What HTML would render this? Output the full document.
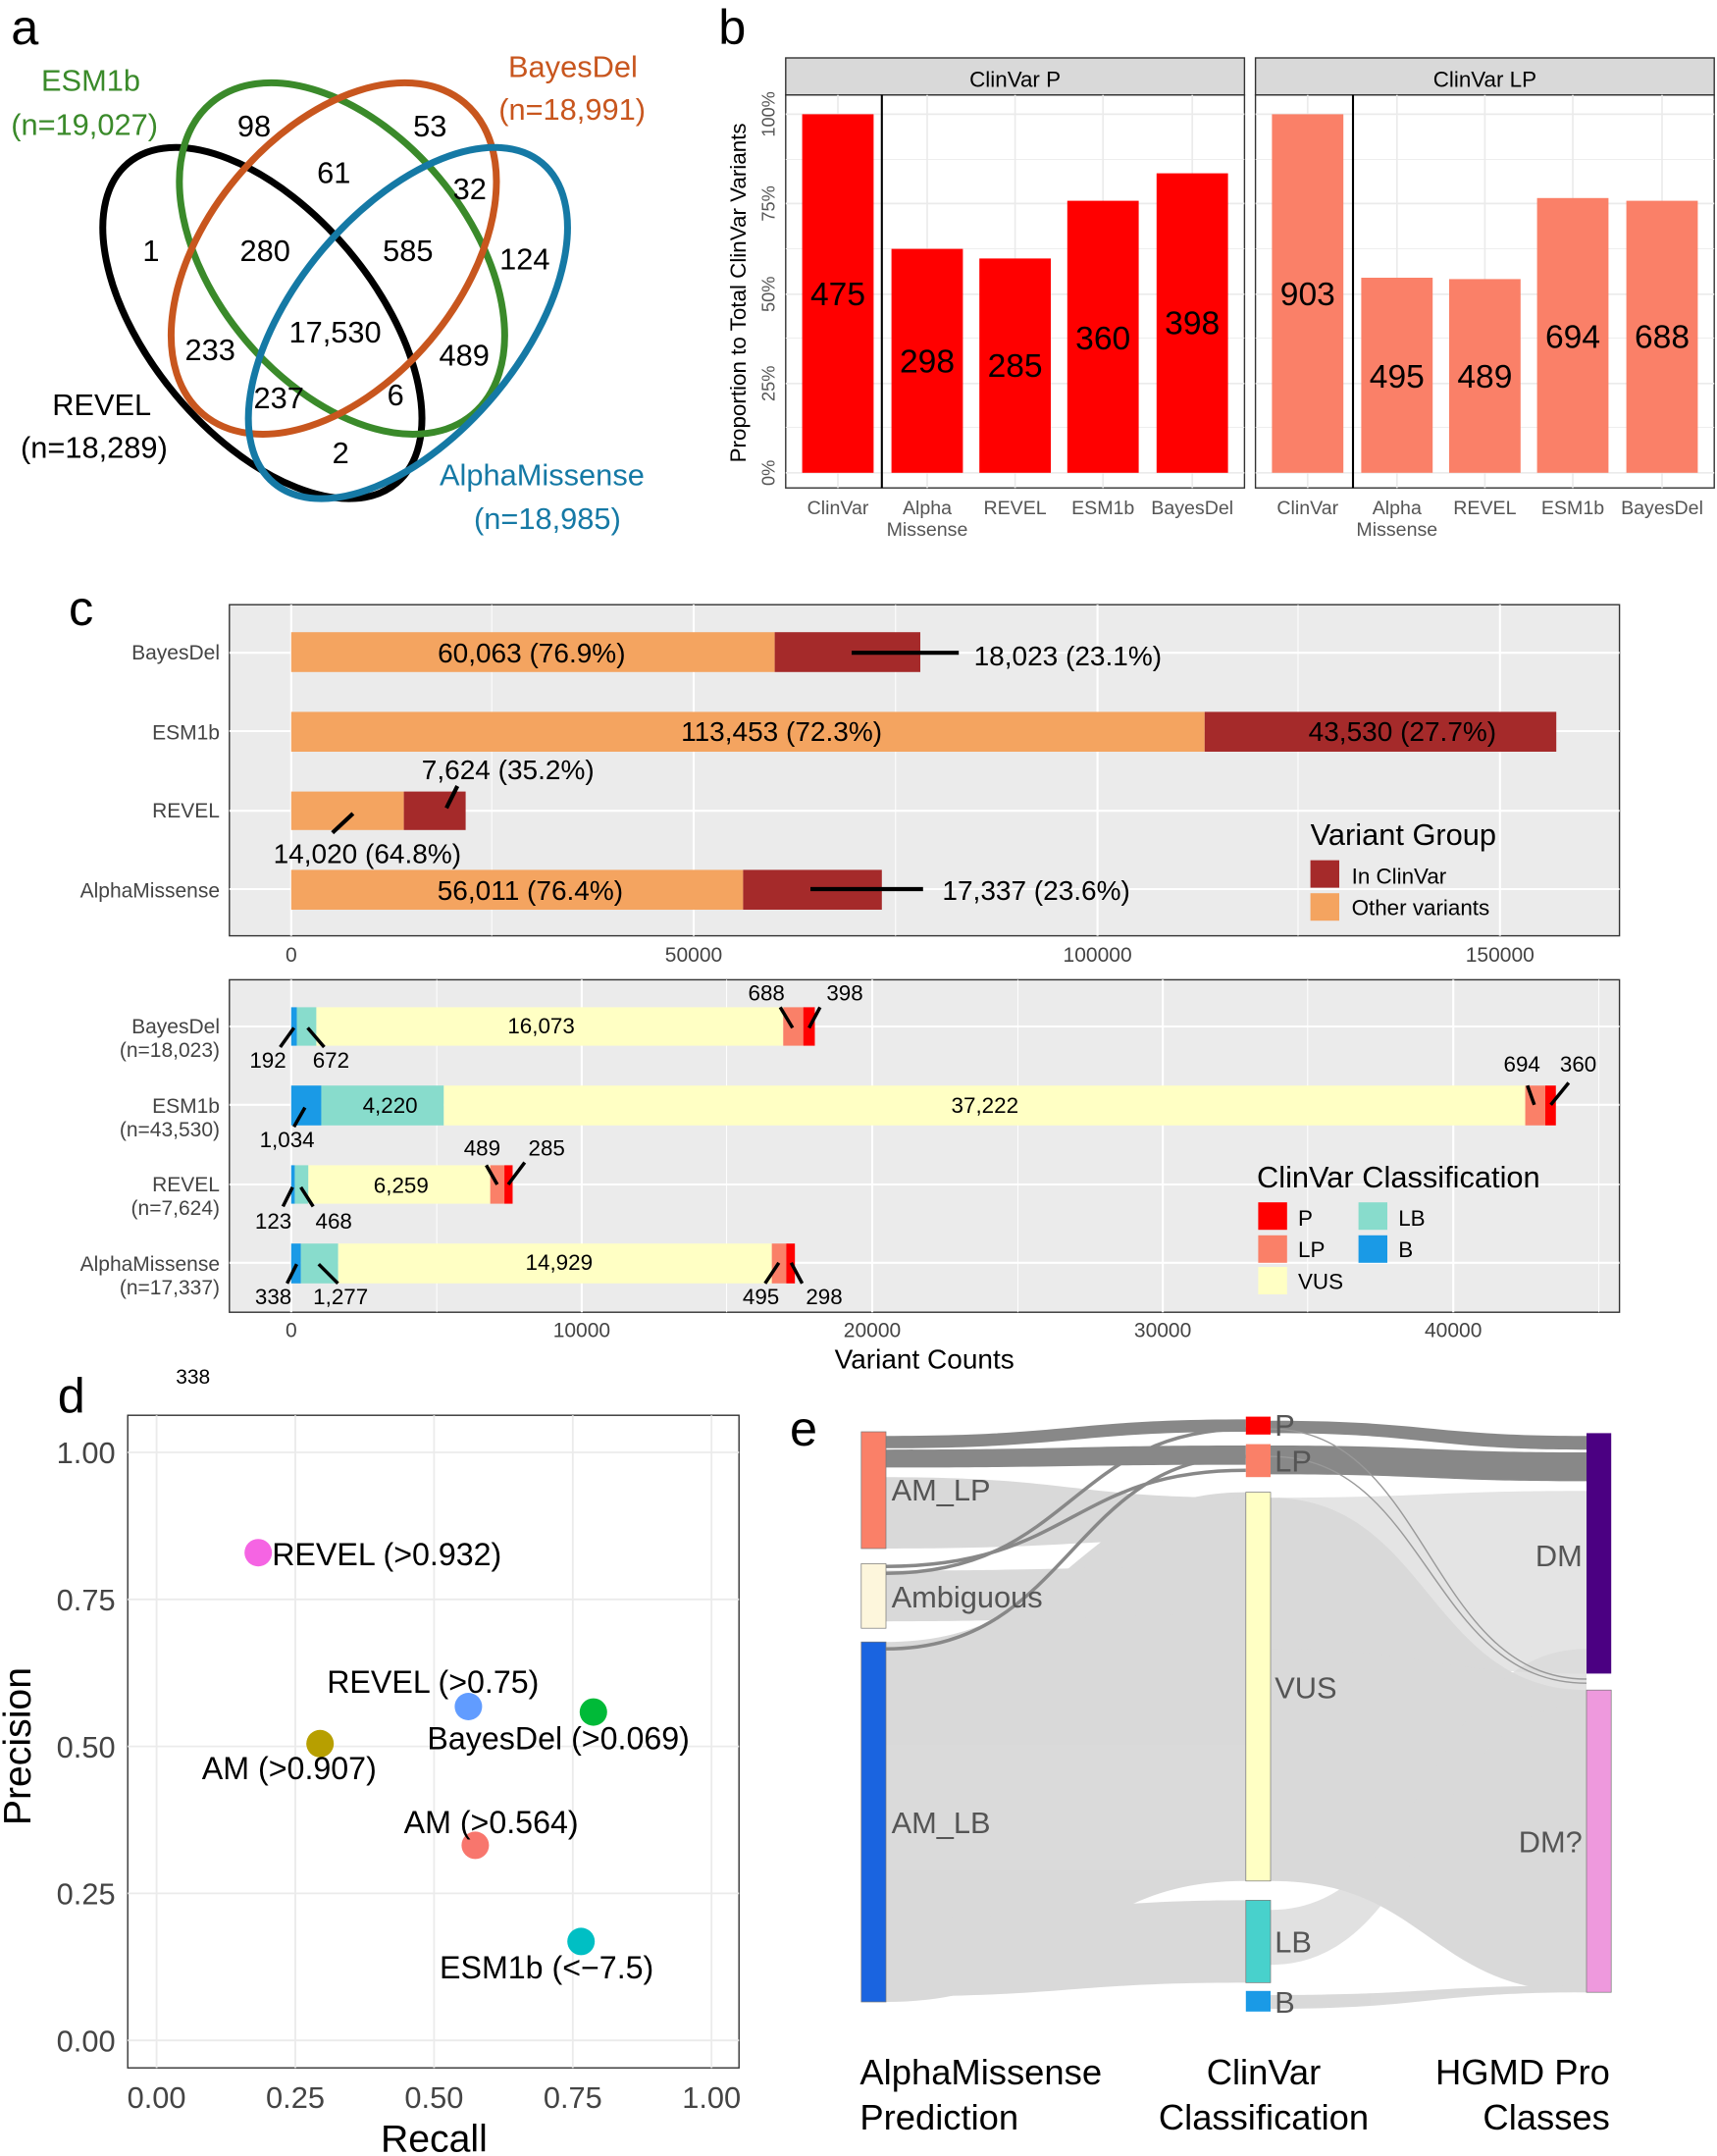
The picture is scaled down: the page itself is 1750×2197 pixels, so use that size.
<!DOCTYPE html>
<html><head><meta charset="utf-8"><style>
html,body{margin:0;padding:0;background:#fff}
svg{display:block}
text{font-family:"Liberation Sans",sans-serif}
</style></head><body>
<svg width="1750" height="2197" viewBox="0 0 1250 1569" xmlns="http://www.w3.org/2000/svg">
<rect width="1250" height="1569" fill="#fff"/>
<!-- Panel a -->
<text x="8" y="32" font-size="36">a</text>
<g fill="none" stroke-width="5">
<ellipse cx="191" cy="235" rx="152" ry="82" transform="rotate(50 191 235)" stroke="#000"/>
<ellipse cx="249" cy="188" rx="148" ry="92" transform="rotate(50 249 188)" stroke="#3a8a2a"/>
<ellipse cx="243" cy="188" rx="148" ry="92" transform="rotate(-50 243 188)" stroke="#c8561e"/>
<ellipse cx="297" cy="235" rx="152" ry="82" transform="rotate(-50 297 235)" stroke="#1579a5"/>
</g>
<g font-size="22" fill="#3a8a2a"><text x="30" y="66">ESM1b</text><text x="8" y="98">(n=19,027)</text></g>
<g font-size="22" fill="#c8561e"><text x="370" y="56">BayesDel</text><text x="363" y="87">(n=18,991)</text></g>
<g font-size="22" fill="#000"><text x="38" y="302">REVEL</text><text x="15" y="333">(n=18,289)</text></g>
<g font-size="22" fill="#1579a5"><text x="320" y="353">AlphaMissense</text><text x="345" y="385">(n=18,985)</text></g>
<g font-size="22" fill="#000" text-anchor="middle">
<text x="185" y="99">98</text><text x="313" y="99">53</text><text x="243" y="133">61</text><text x="342" y="145">32</text>
<text x="110" y="190">1</text><text x="193" y="190">280</text><text x="297" y="190">585</text><text x="382" y="196">124</text>
<text x="153" y="262">233</text><text x="244" y="249">17,530</text><text x="338" y="266">489</text>
<text x="203" y="297">237</text><text x="288" y="295">6</text><text x="248" y="337">2</text>
</g>
<!-- Panel b -->
<text x="523" y="32" font-size="36">b</text>
<text transform="translate(543 213) rotate(-90)" font-size="16" text-anchor="middle">Proportion to Total ClinVar Variants</text>
<g font-size="13" fill="#555" text-anchor="middle">
<text transform="translate(564 344) rotate(-90)">0%</text>
<text transform="translate(564 279) rotate(-90)">25%</text>
<text transform="translate(564 214) rotate(-90)">50%</text>
<text transform="translate(564 148) rotate(-90)">75%</text>
<text transform="translate(564 83) rotate(-90)">100%</text>
</g>
<g id="pb">
<rect x="572" y="42" width="334" height="27" fill="#d9d9d9" stroke="#333"/>
<rect x="572" y="69" width="334" height="286" fill="#fff" stroke="#333"/>
<g stroke="#ebebeb" stroke-width="1.2"><line x1="572" x2="906" y1="344" y2="344"/><line x1="572" x2="906" y1="279" y2="279"/><line x1="572" x2="906" y1="214" y2="214"/><line x1="572" x2="906" y1="148" y2="148"/><line x1="572" x2="906" y1="83" y2="83"/>
<line x1="572" x2="906" y1="311" y2="311" stroke-width=".6"/><line x1="572" x2="906" y1="246" y2="246" stroke-width=".6"/><line x1="572" x2="906" y1="181" y2="181" stroke-width=".6"/><line x1="572" x2="906" y1="116" y2="116" stroke-width=".6"/>
<line x1="610" x2="610" y1="69" y2="355"/><line x1="675" x2="675" y1="69" y2="355"/><line x1="739" x2="739" y1="69" y2="355"/><line x1="803" x2="803" y1="69" y2="355"/><line x1="868" x2="868" y1="69" y2="355"/></g>
</g>
<g fill="#ff0000"><rect x="584" y="83" width="52" height="261"/><rect x="649" y="181" width="52" height="163"/><rect x="713" y="188" width="52" height="156"/><rect x="777" y="146" width="52" height="198"/><rect x="842" y="126" width="52" height="218"/></g>
<line x1="642" x2="642" y1="69" y2="355" stroke="#000" stroke-width="1.5"/>
<text x="739" y="63" font-size="16" text-anchor="middle">ClinVar P</text>
<g font-size="24" text-anchor="middle"><text x="610" y="222">475</text><text x="675" y="271">298</text><text x="739" y="274">285</text><text x="803" y="254">360</text><text x="868" y="243">398</text></g>
<g transform="translate(342 0)">
<use href="#pb"/>
<g fill="#fa8068"><rect x="584" y="83" width="52" height="261"/><rect x="649" y="202" width="52" height="142"/><rect x="713" y="203" width="52" height="141"/><rect x="777" y="144" width="52" height="200"/><rect x="842" y="146" width="52" height="198"/></g>
<line x1="643" x2="643" y1="69" y2="355" stroke="#000" stroke-width="1.5"/>
<text x="739" y="63" font-size="16" text-anchor="middle">ClinVar LP</text>
<g font-size="24" text-anchor="middle"><text x="610" y="222">903</text><text x="675" y="282">495</text><text x="739" y="282">489</text><text x="803" y="253">694</text><text x="868" y="253">688</text></g>
</g>
<g font-size="14" fill="#555" text-anchor="middle">
<text x="610" y="374">ClinVar</text><text x="675" y="374">Alpha</text><text x="675" y="390">Missense</text><text x="739" y="374">REVEL</text><text x="803" y="374">ESM1b</text><text x="868" y="374">BayesDel</text>
<text x="952" y="374">ClinVar</text><text x="1017" y="374">Alpha</text><text x="1017" y="390">Missense</text><text x="1081" y="374">REVEL</text><text x="1145" y="374">ESM1b</text><text x="1210" y="374">BayesDel</text>
</g>
<!-- Panel c top -->
<text x="50" y="455" font-size="36">c</text>
<rect x="167" y="440" width="1012" height="241" fill="#ebebeb" stroke="#333"/>
<g stroke="#fff"><line x1="212" x2="212" y1="440" y2="681" stroke-width="1.5"/><line x1="505" x2="505" y1="440" y2="681" stroke-width="1.5"/><line x1="799" x2="799" y1="440" y2="681" stroke-width="1.5"/><line x1="1092" x2="1092" y1="440" y2="681" stroke-width="1.5"/>
<line x1="358" x2="358" y1="440" y2="681" stroke-width=".7"/><line x1="652" x2="652" y1="440" y2="681" stroke-width=".7"/><line x1="945" x2="945" y1="440" y2="681" stroke-width=".7"/>
<line x1="167" x2="1179" y1="475" y2="475" stroke-width="1.5"/><line x1="167" x2="1179" y1="532" y2="532" stroke-width="1.5"/><line x1="167" x2="1179" y1="590" y2="590" stroke-width="1.5"/><line x1="167" x2="1179" y1="647" y2="647" stroke-width="1.5"/></g>
<g fill="#f4a460"><rect x="212" y="460" width="352" height="29"/><rect x="212" y="518" width="665" height="29"/><rect x="212" y="576" width="82" height="28"/><rect x="212" y="633" width="329" height="29"/></g>
<g fill="#a52a2a"><rect x="564" y="460" width="106" height="29"/><rect x="877" y="518" width="256" height="29"/><rect x="294" y="576" width="45" height="28"/><rect x="541" y="633" width="101" height="29"/></g>
<g stroke="#000" stroke-width="3"><line x1="620" x2="698" y1="475" y2="475"/><line x1="590" x2="672" y1="647" y2="647"/><line x1="333" x2="325" y1="572" y2="588"/><line x1="257" x2="242" y1="592" y2="606"/></g>
<g font-size="20"><text x="387" y="482" text-anchor="middle">60,063 (76.9%)</text><text x="709" y="484">18,023  (23.1%)</text>
<text x="569" y="539" text-anchor="middle">113,453 (72.3%)</text><text x="1021" y="539" text-anchor="middle">43,530 (27.7%)</text>
<text x="307" y="567">7,624 (35.2%)</text><text x="199" y="628">14,020 (64.8%)</text>
<text x="386" y="655" text-anchor="middle">56,011 (76.4%)</text><text x="686" y="655">17,337 (23.6%)</text></g>
<text x="954" y="615" font-size="22">Variant Group</text>
<rect x="954" y="626" width="21" height="20" fill="#a52a2a"/><text x="984" y="643" font-size="16">In ClinVar</text>
<rect x="954" y="650" width="21" height="20" fill="#f4a460"/><text x="984" y="666" font-size="16">Other variants</text>
<g font-size="15" fill="#444" text-anchor="end"><text x="160" y="480">BayesDel</text><text x="160" y="538">ESM1b</text><text x="160" y="595">REVEL</text><text x="160" y="653">AlphaMissense</text></g>
<g font-size="15" fill="#444" text-anchor="middle"><text x="212" y="700">0</text><text x="505" y="700">50000</text><text x="799" y="700">100000</text><text x="1092" y="700">150000</text></g>
<!-- Panel c bottom -->
<rect x="167" y="713" width="1012" height="242" fill="#ebebeb" stroke="#333"/>
<g stroke="#fff"><line x1="212" x2="212" y1="713" y2="955" stroke-width="1.5"/><line x1="423.5" x2="423.5" y1="713" y2="955" stroke-width="1.5"/><line x1="635" x2="635" y1="713" y2="955" stroke-width="1.5"/><line x1="846.5" x2="846.5" y1="713" y2="955" stroke-width="1.5"/><line x1="1058" x2="1058" y1="713" y2="955" stroke-width="1.5"/>
<line x1="318" x2="318" y1="713" y2="955" stroke-width=".7"/><line x1="529" x2="529" y1="713" y2="955" stroke-width=".7"/><line x1="741" x2="741" y1="713" y2="955" stroke-width=".7"/><line x1="952" x2="952" y1="713" y2="955" stroke-width=".7"/><line x1="1164" x2="1164" y1="713" y2="955" stroke-width=".7"/>
<line x1="167" x2="1179" y1="747" y2="747" stroke-width="1.5"/><line x1="167" x2="1179" y1="804" y2="804" stroke-width="1.5"/><line x1="167" x2="1179" y1="862" y2="862" stroke-width="1.5"/><line x1="167" x2="1179" y1="919" y2="919" stroke-width="1.5"/></g>
<g>
<rect x="212" y="733" width="4.1" height="28" fill="#1a9ae6"/><rect x="216.1" y="733" width="14.2" height="28" fill="#88dccc"/><rect x="230.3" y="733" width="339.9" height="28" fill="#ffffc4"/><rect x="570.2" y="733" width="14.6" height="28" fill="#fa8068"/><rect x="584.8" y="733" width="8.4" height="28" fill="#f00"/>
<rect x="212" y="790" width="21.9" height="29" fill="#1a9ae6"/><rect x="233.9" y="790" width="89.2" height="29" fill="#88dccc"/><rect x="323.1" y="790" width="787.3" height="29" fill="#ffffc4"/><rect x="1110.4" y="790" width="14.6" height="29" fill="#fa8068"/><rect x="1125" y="790" width="7.7" height="29" fill="#f00"/>
<rect x="212" y="848" width="2.6" height="28" fill="#1a9ae6"/><rect x="214.6" y="848" width="9.9" height="28" fill="#88dccc"/><rect x="224.5" y="848" width="132.4" height="28" fill="#ffffc4"/><rect x="356.9" y="848" width="10.3" height="28" fill="#fa8068"/><rect x="367.2" y="848" width="6" height="28" fill="#f00"/>
<rect x="212" y="905" width="7.1" height="29" fill="#1a9ae6"/><rect x="219.1" y="905" width="27.1" height="29" fill="#88dccc"/><rect x="246.2" y="905" width="315.7" height="29" fill="#ffffc4"/><rect x="561.9" y="905" width="10.5" height="29" fill="#fa8068"/><rect x="572.4" y="905" width="6.3" height="29" fill="#f00"/>
</g>
<g stroke="#000" stroke-width="2.5">
<line x1="214" x2="204" y1="748" y2="762"/><line x1="224" x2="236" y1="748" y2="762"/><line x1="577" x2="568" y1="748" y2="733"/><line x1="589" x2="597" y1="748" y2="733"/>
<line x1="222" x2="214" y1="806" y2="820"/><line x1="1117" x2="1112" y1="804" y2="790"/><line x1="1129" x2="1142" y1="804" y2="788"/>
<line x1="213" x2="206" y1="864" y2="878"/><line x1="219" x2="228" y1="864" y2="878"/><line x1="362" x2="354" y1="862" y2="848"/><line x1="370" x2="382" y1="862" y2="846"/>
<line x1="216" x2="209" y1="920" y2="934"/><line x1="232" x2="246" y1="920" y2="934"/><line x1="567" x2="557" y1="919" y2="934"/><line x1="576" x2="584" y1="919" y2="934"/>
</g>
<g font-size="16" text-anchor="middle">
<text x="394" y="752">16,073</text><text x="195" y="777">192</text><text x="241" y="777">672</text><text x="558" y="728">688</text><text x="615" y="728">398</text>
<text x="284" y="810">4,220</text><text x="717" y="810">37,222</text><text x="209" y="835">1,034</text><text x="1108" y="780">694</text><text x="1149" y="780">360</text>
<text x="292" y="868">6,259</text><text x="199" y="894">123</text><text x="243" y="894">468</text><text x="351" y="841">489</text><text x="398" y="841">285</text>
<text x="407" y="924">14,929</text><text x="199" y="949">338</text><text x="248" y="949">1,277</text><text x="554" y="949">495</text><text x="600" y="949">298</text>
</g>
<text x="915" y="864" font-size="22">ClinVar Classification</text>
<rect x="916" y="875" width="21" height="20" fill="#f00"/><text x="945" y="892" font-size="16">P</text>
<rect x="989" y="875" width="21" height="20" fill="#88dccc"/><text x="1018" y="892" font-size="16">LB</text>
<rect x="916" y="899" width="21" height="20" fill="#fa8068"/><text x="945" y="915" font-size="16">LP</text>
<rect x="989" y="899" width="21" height="20" fill="#1a9ae6"/><text x="1018" y="915" font-size="16">B</text>
<rect x="916" y="922" width="21" height="20" fill="#ffffc4"/><text x="945" y="938" font-size="16">VUS</text>
<g font-size="15" fill="#444" text-anchor="end"><text x="160" y="752">BayesDel</text><text x="160" y="769">(n=18,023)</text><text x="160" y="810">ESM1b</text><text x="160" y="827">(n=43,530)</text><text x="160" y="867">REVEL</text><text x="160" y="884">(n=7,624)</text><text x="160" y="925">AlphaMissense</text><text x="160" y="942">(n=17,337)</text></g>
<g font-size="15" fill="#444" text-anchor="middle"><text x="212" y="973">0</text><text x="423.5" y="973">10000</text><text x="635" y="973">20000</text><text x="846.5" y="973">30000</text><text x="1058" y="973">40000</text></g>
<text x="673" y="996" font-size="20" text-anchor="middle">Variant Counts</text>
<!-- Panel d -->
<text x="42" y="1028" font-size="36">d</text>
<text x="128" y="1007" font-size="15">338</text>
<rect x="93" y="1030" width="445" height="475" fill="#fff" stroke="#333"/>
<g stroke="#ebebeb" stroke-width="1.3">
<line x1="114" x2="114" y1="1030" y2="1505"/><line x1="215" x2="215" y1="1030" y2="1505"/><line x1="316" x2="316" y1="1030" y2="1505"/><line x1="417" x2="417" y1="1030" y2="1505"/><line x1="518" x2="518" y1="1030" y2="1505"/>
<line x1="93" x2="538" y1="1057" y2="1057"/><line x1="93" x2="538" y1="1164" y2="1164"/><line x1="93" x2="538" y1="1271" y2="1271"/><line x1="93" x2="538" y1="1378" y2="1378"/><line x1="93" x2="538" y1="1485" y2="1485"/>
</g>
<g font-size="22" fill="#444" text-anchor="end"><text x="84" y="1065">1.00</text><text x="84" y="1172">0.75</text><text x="84" y="1279">0.50</text><text x="84" y="1386">0.25</text><text x="84" y="1493">0.00</text></g>
<g font-size="22" fill="#444" text-anchor="middle"><text x="114" y="1534">0.00</text><text x="215" y="1534">0.25</text><text x="316" y="1534">0.50</text><text x="417" y="1534">0.75</text><text x="518" y="1534">1.00</text></g>
<text x="316" y="1566" font-size="28" text-anchor="middle">Recall</text>
<text transform="translate(22 1271) rotate(-90)" font-size="28" text-anchor="middle">Precision</text>
<circle cx="188" cy="1130" r="10" fill="#f564e3"/><circle cx="341" cy="1242" r="10" fill="#619cff"/><circle cx="432" cy="1246" r="10" fill="#00ba38"/><circle cx="233" cy="1269" r="10" fill="#b79f00"/><circle cx="346" cy="1343" r="10" fill="#f8766d"/><circle cx="423" cy="1413" r="10" fill="#00bfc4"/>
<g font-size="23"><text x="198" y="1139">REVEL (&gt;0.932)</text><text x="238" y="1232">REVEL (&gt;0.75)</text><text x="311" y="1273">BayesDel (&gt;0.069)</text><text x="147" y="1295">AM (&gt;0.907)</text><text x="294" y="1334">AM (&gt;0.564)</text><text x="320" y="1440">ESM1b (&lt;−7.5)</text></g>
<!-- Panel e -->
<text x="575" y="1052" font-size="36">e</text>
<g fill="#d3d3d3" opacity=".85">
<path d="M645 1195 C780 1195 780 1086 907 1086 L907 1369 C780 1369 780 1457 645 1457Z"/>
<path d="M645 1143 C780 1143 780 1140 907 1140 L907 1175 C780 1175 780 1180 645 1180Z"/>
<path d="M645 1075 C780 1075 780 1090 907 1090 L907 1120 C780 1120 780 1127 645 1127Z"/>
<path d="M645 1396 C780 1396 780 1383 907 1383 L907 1443 C780 1443 780 1453 645 1453Z"/>
<path d="M925 1090 C1040 1090 1040 1230 1155 1230 L1155 1450 C1040 1450 1040 1369 925 1369Z"/>
<path d="M925 1090 C1040 1090 1040 1085 1155 1085 L1155 1218 C1040 1218 1040 1200 925 1200Z" opacity=".7"/>
<path d="M925 1390 C1040 1390 1040 1200 1155 1200 L1155 1240 C1040 1240 1040 1430 925 1430Z" opacity=".8"/>
<path d="M925 1452 C1040 1452 1040 1445 1155 1445 L1155 1450 C1040 1450 1040 1462 925 1462Z"/>
</g>
<g fill="#888">
<path d="M645 1045 C780 1045 780 1033 907 1033 L907 1042 C780 1042 780 1054 645 1054Z"/>
<path d="M645 1055 C780 1055 780 1052 907 1052 L907 1066 C780 1066 780 1068 645 1068Z"/>
<path d="M925 1034 C1040 1034 1040 1045 1155 1045 L1155 1055 C1040 1055 1040 1043 925 1043Z"/>
<path d="M925 1052 C1040 1052 1040 1057 1155 1057 L1155 1078 C1040 1078 1040 1073 925 1073Z"/>
</g>
<g fill="none" stroke="#888" stroke-width="2.5"><path d="M645 1140 C780 1140 780 1070 907 1070"/><path d="M645 1145 C780 1145 780 1040 907 1040"/><path d="M645 1200 C780 1200 780 1060 907 1060"/></g>
<g fill="none" stroke="#999" stroke-width="1"><path d="M925 1060 C1040 1060 1040 1225 1155 1225"/><path d="M925 1040 C1040 1040 1040 1222 1155 1222"/></g>
<rect x="627" y="1042" width="18" height="85" fill="#fa8068" stroke="#777" stroke-width=".5"/>
<rect x="627" y="1138" width="18" height="47" fill="#fdf6dc" stroke="#777" stroke-width=".5"/>
<rect x="627" y="1195" width="18" height="262" fill="#1a64e0" stroke="#777" stroke-width=".5"/>
<rect x="907" y="1031" width="18" height="13" fill="#f00"/>
<rect x="907" y="1051" width="18" height="24" fill="#fa8068"/>
<rect x="907" y="1086" width="18" height="283" fill="#ffffc4" stroke="#777" stroke-width=".5"/>
<rect x="907" y="1383" width="18" height="60" fill="#48d1cc" stroke="#777" stroke-width=".5"/>
<rect x="907" y="1449" width="18" height="15" fill="#1a9ae6"/>
<rect x="1155" y="1043" width="18" height="175" fill="#4b0082"/>
<rect x="1155" y="1230" width="18" height="220" fill="#ee99dd" stroke="#777" stroke-width=".5"/>
<g font-size="22" fill="#555"><text x="649" y="1092">AM_LP</text><text x="649" y="1170">Ambiguous</text><text x="649" y="1334">AM_LB</text>
<text x="928" y="1045">P</text><text x="928" y="1071">LP</text><text x="928" y="1236">VUS</text><text x="928" y="1421">LB</text><text x="928" y="1465">B</text>
<text x="1152" y="1140" text-anchor="end">DM</text><text x="1152" y="1348" text-anchor="end">DM?</text></g>
<g font-size="26"><text x="626" y="1517">AlphaMissense</text><text x="626" y="1550">Prediction</text>
<text x="920" y="1517" text-anchor="middle">ClinVar</text><text x="920" y="1550" text-anchor="middle">Classification</text>
<text x="1172" y="1517" text-anchor="end">HGMD Pro</text><text x="1172" y="1550" text-anchor="end">Classes</text></g>
</svg>
</body></html>
